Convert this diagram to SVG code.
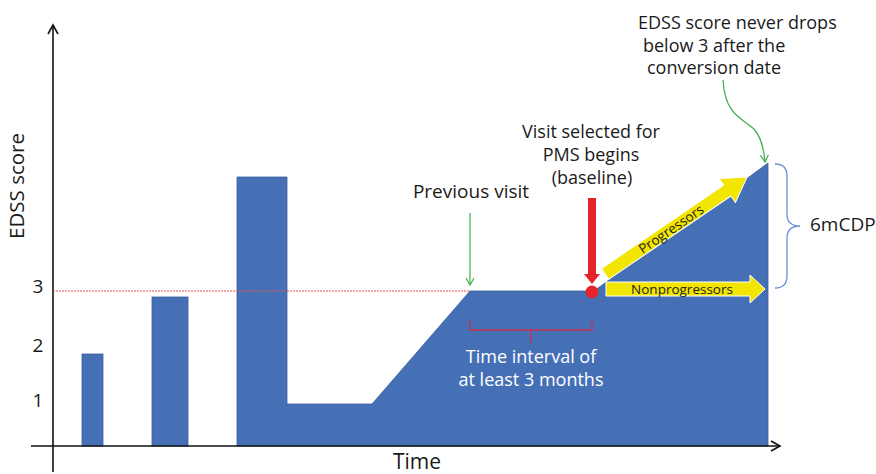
<svg xmlns="http://www.w3.org/2000/svg" width="876" height="474" viewBox="0 0 876 474">
<style>
text{font-family:"Open Sans","Noto Sans","DejaVu Sans",sans-serif;fill:#1a1a1a}
.lbl{font-size:19px}
.ml{font-size:18px}
.axis{stroke:#111;stroke-width:1.6;fill:none}
.blue{fill:#4670b6;stroke:#3a5d9e;stroke-width:0.8}
.yel{fill:#f2e500;stroke:#ffffff;stroke-width:1}
.ytxt{font-size:13.5px;fill:#222}
.wtxt{font-size:18px;fill:#ffffff}
</style>
<defs>
<marker id="open" markerWidth="12" markerHeight="12" refX="10" refY="6" orient="auto" markerUnits="userSpaceOnUse">
<path d="M1,1 L10,6 L1,11" fill="none" stroke="#111" stroke-width="1.6"/>
</marker>
<marker id="greenhead" markerWidth="10" markerHeight="10" refX="8" refY="5" orient="auto" markerUnits="userSpaceOnUse">
<path d="M1,1 L8,5 L1,9" fill="none" stroke="#3fae4a" stroke-width="1.2"/>
</marker>
</defs>
<g id="bars">
<rect class="blue" x="82" y="354" width="21" height="92"/>
<rect class="blue" x="152" y="297" width="36" height="149"/>
<path class="blue" d="M237,446 L237,177 L287,177 L287,404 L372,404 L470,291 L594,291 L768,163 L768,446 Z"/>
</g>
<g id="axes">
<line class="axis" x1="53" y1="472" x2="53" y2="25" marker-end="url(#open)"/>
<line class="axis" x1="31" y1="446" x2="780" y2="446" marker-end="url(#open)"/>
<text x="38" y="293" class="lbl" text-anchor="middle">3</text>
<text x="38" y="352" class="lbl" text-anchor="middle">2</text>
<text x="38" y="407" class="lbl" text-anchor="middle">1</text>
<text x="24" y="186" font-size="20.5" text-anchor="middle" transform="rotate(-90 24 186)">EDSS score</text>
<text x="417" y="469" font-size="21" text-anchor="middle">Time</text>
</g>
<g id="connectors">
<line x1="53" y1="291" x2="470" y2="291" stroke="#e05050" stroke-width="1" stroke-dasharray="2,1"/>
<line x1="470" y1="213" x2="470" y2="285" stroke="#3fae4a" stroke-width="1.2" marker-end="url(#greenhead)"/>
<path d="M723,80 C725,115 742,118 754,129 C762,138 764,150 765,162" fill="none" stroke="#3fae4a" stroke-width="1.2" marker-end="url(#greenhead)"/>
<path d="M470,320 L470,330 L592,330 L592,320 M531,330 L531,343" fill="none" stroke="#c8304a" stroke-width="1.3"/>
<path d="M775,164 Q787,164 787,176 L787,214 Q787,226 800,226 Q787,226 787,238 L787,276 Q787,288 775,288" fill="none" stroke="#6a92d4" stroke-width="1.3"/>
</g>
<g id="baseline-marker">
<polygon points="588,198 596,198 596,274 600,274 592,284 584,274 588,274" fill="#e4242a"/>
<circle cx="592" cy="292" r="6.5" fill="#e4242a"/>
</g>
<g id="progressors">
<polygon class="yel" transform="translate(605 274) rotate(-34.3)" points="0,-6.5 148,-6.5 148,-14.5 172,0 148,14.5 148,6.5 0,6.5"/>
<text class="ytxt" text-anchor="middle" transform="translate(605 274) rotate(-34.3)" x="80" y="5">Progressors</text>
</g>
<g id="nonprogressors">
<polygon class="yel" points="606,282 750,282 750,275 765,289 750,303 750,296 606,296"/>
<text class="ytxt" x="682" y="294" text-anchor="middle">Nonprogressors</text>
</g>
<g id="labels">
<text class="lbl" x="471" y="198" text-anchor="middle">Previous visit</text>
<text class="ml" x="591" y="138" text-anchor="middle">Visit selected for</text>
<text class="ml" x="591" y="161" text-anchor="middle">PMS begins</text>
<text class="ml" x="592" y="184" text-anchor="middle">(baseline)</text>
<text class="ml" x="638" y="29">EDSS score never drops</text>
<text class="ml" x="643" y="52">below 3 after the</text>
<text class="ml" x="647" y="74">conversion date</text>
<text class="lbl" x="810" y="231">6mCDP</text>
<text class="wtxt" x="531" y="363" text-anchor="middle">Time interval of</text>
<text class="wtxt" x="531" y="386" text-anchor="middle">at least 3 months</text>
</g>
</svg>
